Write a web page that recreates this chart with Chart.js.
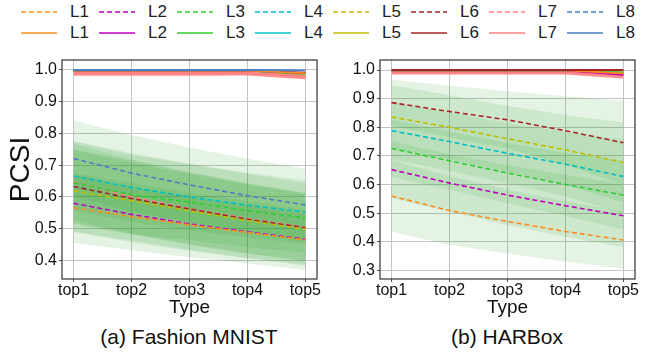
<!DOCTYPE html>
<html>
<head>
<meta charset="utf-8">
<script src="https://cdn.jsdelivr.net/npm/chart.js@4.4.1/dist/chart.umd.min.js"></script>
<style>
  body { margin: 0; background: #fff; font-family: "Liberation Sans", Arial, sans-serif; }
  #wrap { position: relative; width: 657px; height: 358px; overflow: hidden; }
  canvas { position: absolute; }
  #c1 { left: 0; top: 50px; }
  #c2 { left: 330px; top: 50px; }
  .leg { position: absolute; display: flex; align-items: center; font-size: 17px; color: #222; height: 20px; }
  .leg svg { margin-right: 13px; }
  .cap { position: absolute; top: 325px; font-size: 21px; transform: translateX(-50%); white-space: nowrap; color: #111; }
</style>
</head>
<body>
<div id="wrap">
  <div id="legend"></div>
  <canvas id="c1" width="330" height="269"></canvas>
  <canvas id="c2" width="327" height="269"></canvas>
  <div class="cap" style="left:189px">(a) Fashion MNIST</div>
  <div class="cap" style="left:507px">(b) HARBox</div>
</div>
<script>
const tickLabels = ['top1', 'top2', 'top3', 'top4', 'top5'];
const series = ['L1', 'L2', 'L3', 'L4', 'L5', 'L6', 'L7', 'L8'];
const colors = ['#ff8c1a', '#c000c0', '#33cc33', '#00bfc4', '#bfbf00', '#a82424', '#ff8080', '#4a7fbf'];

// Fashion MNIST: dashed means and their spread
const fashionMean = [
  [0.566, 0.538, 0.512, 0.488, 0.465],
  [0.580, 0.545, 0.515, 0.490, 0.467],
  [0.645, 0.607, 0.584, 0.557, 0.534],
  [0.666, 0.630, 0.600, 0.574, 0.552],
  [0.620, 0.588, 0.556, 0.525, 0.498],
  [0.633, 0.595, 0.562, 0.530, 0.503],
  [0.648, 0.601, 0.563, 0.532, 0.505],
  [0.721, 0.675, 0.638, 0.604, 0.575]
];
const fashionStd = [
  [0.110, 0.106, 0.102, 0.098, 0.095],
  [0.090, 0.088, 0.085, 0.082, 0.080],
  [0.130, 0.125, 0.120, 0.115, 0.110],
  [0.110, 0.108, 0.105, 0.102, 0.100],
  [0.130, 0.126, 0.122, 0.118, 0.115],
  [0.115, 0.112, 0.110, 0.108, 0.105],
  [0.120, 0.117, 0.114, 0.110, 0.107],
  [0.120, 0.120, 0.118, 0.116, 0.115]
];
const fashionSolid = [
  [0.998, 0.998, 0.998, 0.998, 0.990],
  [0.998, 0.998, 0.998, 0.998, 0.990],
  [0.998, 0.998, 0.998, 0.998, 0.988],
  [0.998, 0.998, 0.998, 0.998, 0.990],
  [0.998, 0.998, 0.998, 0.998, 0.988],
  [0.999, 0.999, 0.999, 0.999, 0.992],
  [0.990, 0.990, 0.990, 0.990, 0.982],
  [1.000, 1.000, 1.000, 1.000, 0.999]
];
const fashionBandLo = [0.982, 0.982, 0.982, 0.983, 0.971];
const fashionBandHi = [0.997, 0.997, 0.997, 0.997, 0.990];
const fashionYTicks = [0.4, 0.5, 0.6, 0.7, 0.8, 0.9, 1.0];

// HARBox
const harboxMean = [
  [0.560, 0.509, 0.471, 0.436, 0.406],
  [0.652, 0.605, 0.563, 0.526, 0.491],
  [0.726, 0.683, 0.640, 0.600, 0.563],
  [0.788, 0.750, 0.709, 0.671, 0.628],
  [0.836, 0.800, 0.760, 0.721, 0.677],
  [0.886, 0.855, 0.826, 0.788, 0.746],
  null,
  null
];
const harboxStd = [
  [0.125, 0.120, 0.112, 0.106, 0.100],
  [0.100, 0.100, 0.105, 0.108, 0.110],
  [0.100, 0.102, 0.105, 0.110, 0.120],
  [0.100, 0.102, 0.105, 0.112, 0.130],
  [0.112, 0.112, 0.115, 0.122, 0.140],
  [0.081, 0.090, 0.100, 0.120, 0.147],
  null,
  null
];
const harboxSolid = [
  [0.999, 0.999, 0.999, 0.999, 0.988],
  [0.999, 0.999, 0.999, 0.999, 0.983],
  [0.999, 0.999, 0.999, 0.999, 0.990],
  [0.999, 0.999, 0.999, 0.999, 0.990],
  [0.999, 0.999, 0.999, 0.999, 0.992],
  [1.000, 1.000, 1.000, 1.000, 1.000],
  [0.992, 0.992, 0.992, 0.992, 0.985],
  [0.999, 0.999, 0.999, 0.999, 0.998]
];
const harboxBandLo = [0.984, 0.984, 0.984, 0.984, 0.970];
const harboxBandHi = [0.997, 0.997, 0.997, 0.997, 0.994];
const harboxYTicks = [0.3, 0.4, 0.5, 0.6, 0.7, 0.8, 0.9, 1.0];

// legend (two rows: dashed, solid)
const legend = document.getElementById('legend');
[[5, 3], null].forEach((dash, row) => {
  series.forEach((name, i) => {
    const d = document.createElement('div');
    d.className = 'leg';
    d.style.left = (21 + 78 * i) + 'px';
    d.style.top = (2 + 21 * row) + 'px';
    d.innerHTML = '<svg width="36" height="4"><line x1="0" y1="2" x2="36" y2="2" stroke="' + colors[i] +
      '" stroke-width="1.6"' + (dash ? ' stroke-dasharray="' + dash.join(',') + '"' : '') + '/></svg><span>' + name + '</span>';
    legend.appendChild(d);
  });
});

const frame = {
  id: 'frame',
  afterDatasetsDraw(chart) {
    const a = chart.chartArea, ctx = chart.ctx;
    ctx.save();
    ctx.strokeStyle = '#333';
    ctx.lineWidth = 1.2;
    ctx.strokeRect(a.left, a.top, a.right - a.left, a.bottom - a.top);
    ctx.restore();
  }
};

const pts = arr => arr.map((v, j) => ({ x: j, y: v }));

function makePanel(id, mean, std, solid, bandLo, bandHi, yTicks, yMin, yMax, yTitle, yWidth, padRight, topIdx) {
  const datasets = [];
  mean.forEach((m, i) => {
    if (!m) return;
    datasets.push({ data: pts(m.map((v, j) => v - std[i][j])), borderWidth: 0, pointRadius: 0, fill: false, order: 100 });
    datasets.push({ data: pts(m.map((v, j) => v + std[i][j])), borderWidth: 0, pointRadius: 0, fill: '-1',
      backgroundColor: 'rgba(44,160,44,0.12)', order: 100 });
  });
  mean.forEach((m, i) => {
    if (!m) return;
    datasets.push({ data: pts(m), borderColor: colors[i], borderWidth: 1.6, borderDash: [5, 3], pointRadius: 0, fill: false, order: 20 });
  });
  datasets.push({ data: pts(bandLo), borderWidth: 0, pointRadius: 0, fill: false, order: 15 });
  datasets.push({ data: pts(bandHi), borderWidth: 0, pointRadius: 0, fill: '-1', backgroundColor: 'rgba(255,110,110,0.8)', order: 15 });
  solid.forEach((s, i) => {
    datasets.push({ data: pts(s), borderColor: colors[i], borderWidth: 1.8, pointRadius: 0, fill: false, order: i === topIdx ? 1 : 10 });
  });

  new Chart(document.getElementById(id), {
    type: 'line',
    data: { datasets },
    plugins: [frame],
    options: {
      responsive: false,
      animation: false,
      layout: { padding: { top: 10, right: padRight, left: 0, bottom: 0 } },
      plugins: { legend: { display: false }, tooltip: { enabled: false } },
      scales: {
        x: {
          type: 'linear', min: -0.2, max: 4.2,
          afterBuildTicks: s => { s.ticks = tickLabels.map((_, i) => ({ value: i })); },
          afterFit: s => { s.height = 40; s.paddingLeft = 0; s.paddingRight = 0; },
          ticks: { callback: v => tickLabels[v], font: { size: 16 }, color: '#111', padding: -1, maxRotation: 0, autoSkip: false },
          grid: { color: '#c4c4c4', tickColor: '#555', tickLength: 3 },
          border: { display: false },
          title: { display: true, text: 'Type', font: { size: 19 }, color: '#111', padding: 0 }
        },
        y: {
          min: yMin, max: yMax,
          afterBuildTicks: s => { s.ticks = yTicks.map(v => ({ value: v })); },
          afterFit: s => { s.width = yWidth; s.paddingTop = 0; s.paddingBottom = 0; },
          ticks: { callback: v => v.toFixed(1), font: { size: 16 }, color: '#111', padding: 2 },
          grid: { color: '#c4c4c4', tickColor: '#555', tickLength: 3 },
          border: { display: false },
          title: { display: !!yTitle, text: yTitle, font: { size: 28 }, color: '#111', padding: { top: 4, bottom: 0 } }
        }
      }
    }
  });
}

makePanel('c1', fashionMean, fashionStd, fashionSolid, fashionBandLo, fashionBandHi, fashionYTicks, 0.3415, 1.0315, 'PCSI', 62, 13, 7);
makePanel('c2', harboxMean, harboxStd, harboxSolid, harboxBandLo, harboxBandHi, harboxYTicks, 0.270, 1.035, '', 50, 22, 5);
</script>
</body>
</html>
